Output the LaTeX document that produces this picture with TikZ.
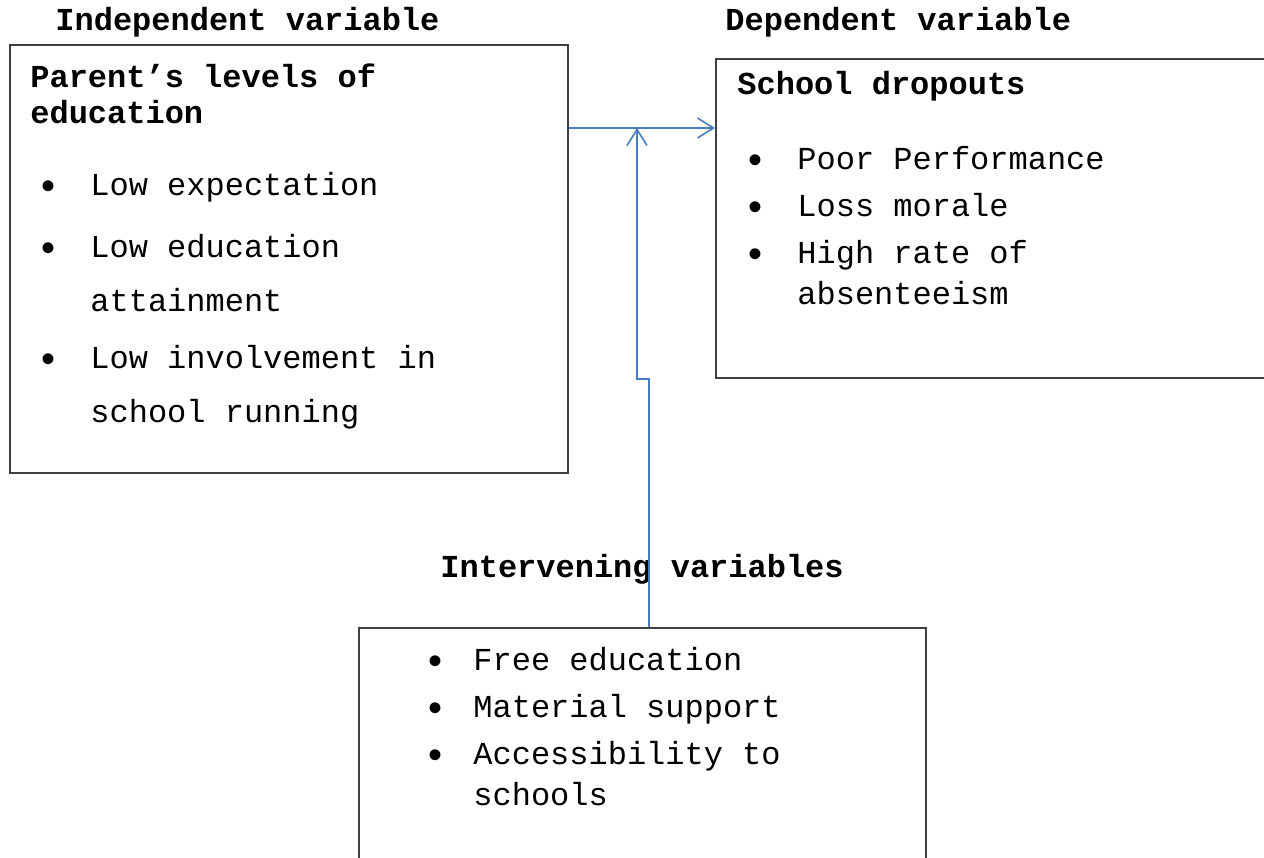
\documentclass[tikz,border=0pt]{standalone}
\usepackage{fontspec}
\setmainfont{Liberation Mono}
\usetikzlibrary{arrows.meta}
\definecolor{lineblue}{HTML}{4A7EBB}
\newcommand{\bul}[1][21pt]{\llap{\makebox[0pt]{\raisebox{-2pt}{\scalebox{1.25}{\textbullet}}}\hspace{#1}}}

\tikzstyle{box} = [rectangle, draw = black!75, line width = 1pt, anchor = north west, inner sep = 0pt]
\tikzstyle{title} = [font = \fontsize{16}{18}\selectfont\bfseries, anchor = base west, inner sep = 0pt]
\tikzstyle{heading} = [font = \fontsize{16}{18}\selectfont\bfseries, align = left, anchor = base west, inner sep = 0pt]
\tikzstyle{items} = [font = \fontsize{16}{20.5}\selectfont, align = left, anchor = base west, inner sep = 0pt]
\tikzstyle{arrow} = [line width = 0.8pt, draw = lineblue, -{Straight Barb[length = 8pt, width = 10pt, line width = 0.8pt]}]

\begin{document}
\begin{tikzpicture}[x = 0.5pt, y = -0.5pt]
    \useasboundingbox (0,0) rectangle (1264,857);
    \clip (0,0) rectangle (1264,857);
    % boxes
    \node(indep)[box, minimum width = 279pt, minimum height = 214pt] at (9,44) {};
    \node(dep)[box, minimum width = 290pt, minimum height = 159.5pt] at (715,58) {};
    \node(interv)[box, minimum width = 283.5pt, minimum height = 130pt] at (358,627) {};
    % titles
    \node(indep_title)[title] at (55,30) {Independent variable};
    \node(dep_title)[title] at (725,30) {Dependent variable};
    \node(interv_title)[title] at (440,577) {Intervening variables};
    % box contents (placed at the baseline of their last line)
    \node(indep_head)[heading] at (30,123) {Parent’s levels of\\education};
    \node(indep_items)[items, font = \fontsize{16}{27}\selectfont] at (90,422) {\bul Low expectation\\[4pt]
        \bul Low education\\
        attainment\\[1.5pt]
        \bul Low involvement in\\
        school running};
    \node(dep_head)[heading] at (737,94) {School dropouts};
    \node(dep_items)[items] at (797,304) {\bul Poor Performance\\[3pt]
        \bul Loss morale\\[3pt]
        \bul High rate of\\
        absenteeism};
    \node(interv_items)[items] at (473,805) {\bul[19pt]Free education\\[3pt]
        \bul[19pt]Material support\\[3pt]
        \bul[19pt]Accessibility to\\
        schools};
    % connectors
    \coordinate(join) at (637,128);
    \draw[arrow] (indep.east |- join) -- (dep.west |- join);
    \draw[arrow] ([xshift = 3.25pt]interv.north) -- ([xshift = 3.25pt]interv.north |- dep.south) -- (join |- dep.south) -- (join);
\end{tikzpicture}
\end{document}
